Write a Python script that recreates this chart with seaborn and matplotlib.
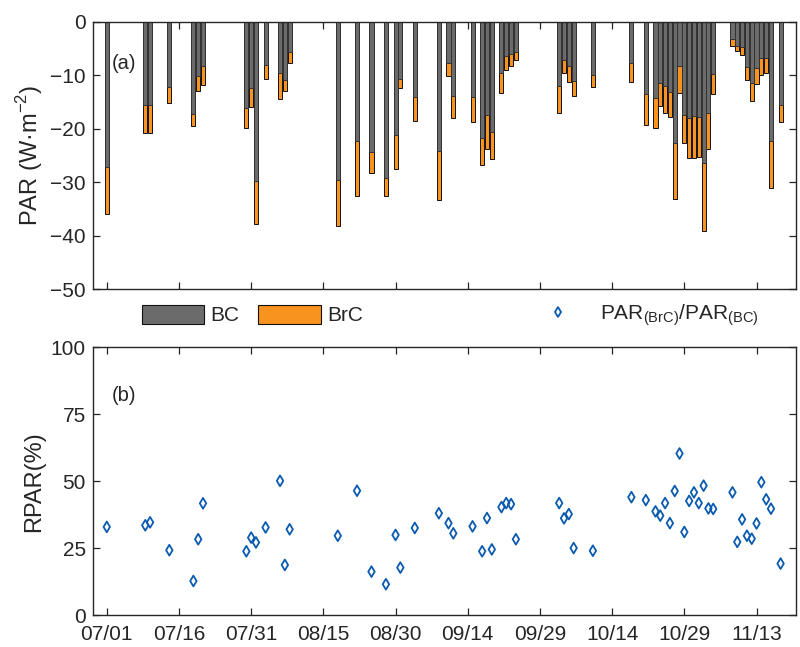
import pandas as pd
import seaborn as sns
import matplotlib.pyplot as plt
from matplotlib.patches import Patch
from matplotlib.lines import Line2D

# --- data ---
dates = ['07/01', '07/09', '07/10', '07/14', '07/19', '07/20', '07/21', '07/30',
         '07/31', '08/01', '08/03', '08/06', '08/07', '08/08', '08/18', '08/22',
         '08/25', '08/28', '08/30', '08/31', '09/03', '09/08', '09/10', '09/11',
         '09/15', '09/17', '09/18', '09/19', '09/21', '09/22', '09/23', '09/24',
         '10/03', '10/04', '10/05', '10/06', '10/10', '10/18', '10/21', '10/23',
         '10/24', '10/25', '10/26', '10/27', '10/28', '10/29', '10/30', '10/31',
         '11/01', '11/02', '11/03', '11/04', '11/08', '11/09', '11/10', '11/11',
         '11/12', '11/13', '11/14', '11/15', '11/16', '11/18']

bc_par = [-27.1, -15.5, -15.5, -12.2, -17.2, -10.1, -8.2, -16.0,
          -12.4, -29.7, -8.0, -9.6, -10.9, -5.7, -29.5, -22.2,
          -24.3, -29.2, -21.1, -10.6, -14.0, -24.2, -7.6, -13.8,
          -14.1, -21.7, -17.4, -20.5, -9.5, -6.4, -5.9, -5.6,
          -12.0, -7.1, -8.2, -11.0, -9.9, -7.7, -13.4, -14.2,
          -11.5, -12.0, -13.1, -22.7, -8.2, -17.4, -17.9, -17.5,
          -17.7, -26.3, -17.0, -9.7, -3.1, -4.4, -4.6, -8.4,
          -11.5, -8.7, -6.7, -6.8, -22.2, -15.6]

brc_par = [-8.9, -5.2, -5.3, -2.9, -2.2, -2.8, -3.5, -3.8,
           -3.5, -8.1, -2.7, -4.8, -2.0, -1.9, -8.7, -10.3,
           -3.9, -3.4, -6.4, -1.8, -4.5, -9.2, -2.5, -4.1,
           -4.7, -5.1, -6.3, -5.2, -3.7, -2.6, -2.3, -1.5,
           -5.1, -2.5, -3.0, -2.9, -2.3, -3.5, -5.8, -5.6,
           -4.3, -5.1, -4.6, -10.5, -5.0, -5.3, -7.6, -7.9,
           -7.5, -12.8, -6.8, -3.8, -1.4, -1.1, -1.6, -2.5,
           -3.3, -2.9, -3.2, -2.8, -8.8, -3.1]

rpar = [33.0, 33.6, 34.7, 24.3, 12.8, 28.4, 41.8, 23.9,
        29.0, 27.2, 32.8, 50.2, 18.8, 32.1, 29.7, 46.5,
        16.3, 11.6, 30.0, 17.8, 32.6, 38.1, 34.4, 30.6,
        33.2, 23.9, 36.3, 24.6, 40.4, 41.9, 41.5, 28.4,
        41.9, 36.2, 37.8, 25.1, 24.1, 44.1, 43.0, 38.8,
        37.2, 41.9, 34.4, 46.4, 60.4, 31.1, 42.7, 45.9,
        41.9, 48.4, 39.9, 39.7, 45.9, 27.4, 35.8, 29.7,
        28.6, 34.3, 49.7, 43.3, 39.8, 19.3]

tick_dates = ['07/01', '07/16', '07/31', '08/15', '08/30',
              '09/14', '09/29', '10/14', '10/29', '11/13']

# --- pre-processing ---
start = pd.Timestamp('2019-07-01')


def to_day(s):
    return (pd.Timestamp('2019/' + s) - start).days


df = pd.DataFrame({'date': dates, 'BC': bc_par, 'BrC': brc_par, 'RPAR': rpar})
df['day'] = [to_day(d) for d in df['date']]
df['total'] = df['BC'] + df['BrC']
tick_days = [to_day(d) for d in tick_dates]

# --- style ---
sns.set_theme(style='ticks')
plt.rcParams['font.family'] = ['Liberation Sans', 'DejaVu Sans']
plt.rcParams['mathtext.fontset'] = 'custom'
plt.rcParams['mathtext.rm'] = 'Liberation Sans'
plt.rcParams['axes.edgecolor'] = '#262626'
plt.rcParams['axes.linewidth'] = 1.0

GRAY = '#6b6b6b'
ORANGE = '#f7931e'
BLUE = '#0a5bb0'
TXT = '#262626'

fig = plt.figure(figsize=(8, 6.47), dpi=100)
ax1 = fig.add_axes([0.116, 0.553, 0.879, 0.413])
ax2 = fig.add_axes([0.116, 0.049, 0.879, 0.414])

# --- panel (a): stacked bars (BrC drawn as the full stack, BC over it) ---
sns.barplot(data=df, x='day', y='total', native_scale=True, orient='v',
            color=ORANGE, saturation=1, edgecolor='#111111', linewidth=0.7,
            width=0.85, errorbar=None, ax=ax1)
sns.barplot(data=df, x='day', y='BC', native_scale=True, orient='v',
            color=GRAY, saturation=1, edgecolor='#333333', linewidth=0.7,
            width=0.85, errorbar=None, ax=ax1)

ax1.set_xlim(-2.9, 143.2)
ax1.set_ylim(-50, 0)
ax1.set_yticks(range(-50, 1, 10))
ax1.set_xticks(tick_days)
ax1.set_xticklabels([])
ax1.set_xlabel('')
ax1.set_ylabel('PAR (W·m$^{\\mathrm{-2}}$)', fontsize=17, color=TXT, labelpad=4)
ax1.text(0.027, 0.845, '(a)', transform=ax1.transAxes, fontsize=14.5,
         color=TXT, va='center', ha='left')

# --- panel (b): ratio ---
sns.scatterplot(data=df, x='day', y='RPAR', marker='d', s=30,
                facecolor='none', edgecolor=BLUE, linewidth=1.3, ax=ax2)
ax2.set_xlim(-2.9, 143.2)
ax2.set_ylim(0, 100)
ax2.set_yticks([0, 25, 50, 75, 100])
ax2.set_xticks(tick_days)
ax2.set_xticklabels(tick_dates)
ax2.set_xlabel('')
ax2.set_ylabel('RPAR(%)', fontsize=17, color=TXT, labelpad=4)
ax2.text(0.027, 0.82, '(b)', transform=ax2.transAxes, fontsize=14.5,
         color=TXT, va='center', ha='left')

for ax in (ax1, ax2):
    ax.tick_params(direction='in', top=True, right=True, length=5, width=0.9,
                   labelsize=15, colors=TXT, pad=5)
    ax.tick_params(axis='x', pad=7)
    for sp in ax.spines.values():
        sp.set_visible(True)

# --- legends between the panels ---
bar_handles = [Patch(facecolor=GRAY, edgecolor='#111111', linewidth=0.8),
               Patch(facecolor=ORANGE, edgecolor='#111111', linewidth=0.8)]
fig.legend(bar_handles, ['BC', 'BrC'], loc='center left',
           bbox_to_anchor=(0.154, 0.513), ncol=2, frameon=False,
           handlelength=3.0, handleheight=1.0, handletextpad=0.3,
           columnspacing=0.9, prop={'size': 15})

dot_handle = [Line2D([], [], linestyle='none', marker='d', markersize=5.5,
                     markerfacecolor='none', markeredgecolor=BLUE,
                     markeredgewidth=1.3)]
fig.legend(dot_handle, ['PAR$_{\\mathrm{(BrC)}}$/PAR$_{\\mathrm{(BC)}}$'],
           loc='center left', bbox_to_anchor=(0.648, 0.513), frameon=False,
           handlelength=2.0, handletextpad=1.0, prop={'size': 15})

fig.savefig('out.png', dpi=100)
